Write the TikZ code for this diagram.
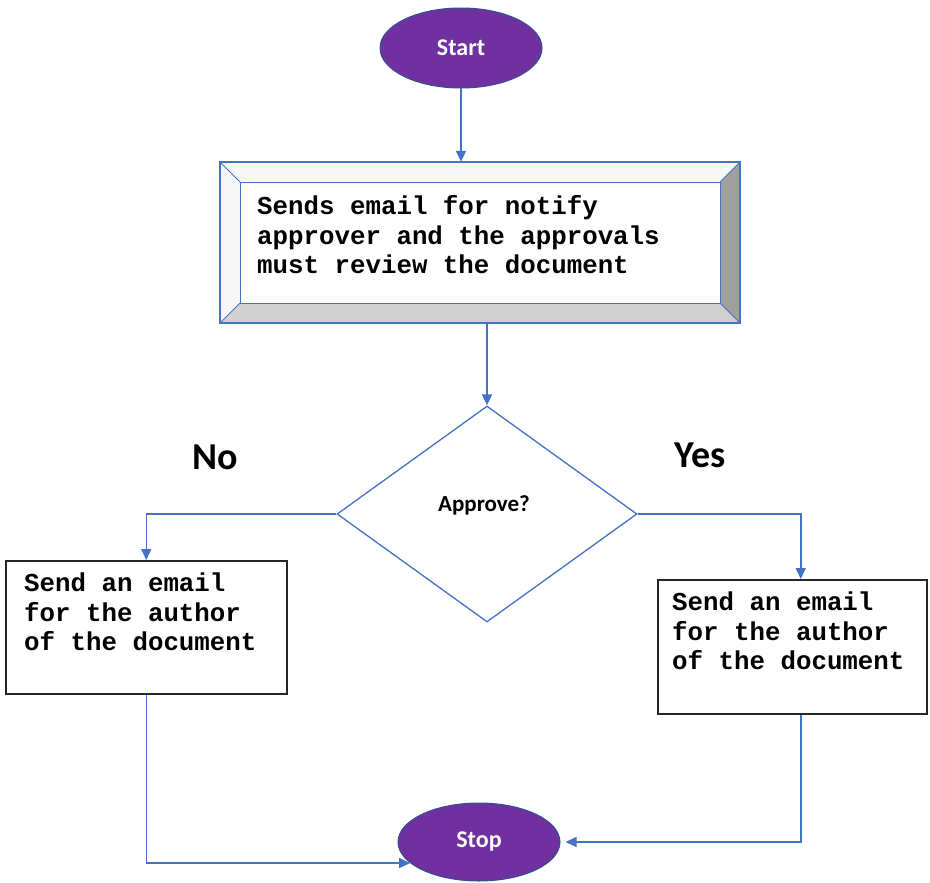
\documentclass[tikz,border=0pt]{standalone}
\usepackage{fontspec}
\newfontfamily\cmono{Liberation Mono}
\newfontfamily\calib{Carlito}
\usetikzlibrary{shapes.geometric,arrows.meta}
\definecolor{flowblue}{HTML}{4472C4}
\definecolor{termpurple}{HTML}{7030A0}
\definecolor{termedge}{HTML}{2F528F}
\definecolor{bevlight}{HTML}{F7F7F7}
\definecolor{bevright}{HTML}{A0A0A0}
\definecolor{bevbottom}{HTML}{D0D0D0}
\begin{document}
\begin{tikzpicture}[x=1pt,y=-1pt,
  arr/.style={draw=flowblue, line width=1.5pt, -{Triangle[length=11pt,width=10pt]}},
  term/.style={ellipse, fill=termpurple, draw=termedge, line width=1pt,
    minimum width=162pt, minimum height=80pt, inner sep=0pt, text=white,
    font=\calib\bfseries\fontsize{24}{28}\selectfont},
  msgbox/.style={draw=black!85, line width=1.5pt, fill=white, inner sep=0pt, anchor=north west},
  monotext/.style={font=\cmono\bfseries\fontsize{25.8}{29.5}\selectfont, align=left, inner sep=0pt},
  bevel/.style={draw=flowblue, line width=1pt},
  lbl/.style={font=\calib\bfseries\fontsize{38}{42}\selectfont, inner sep=0pt}
]
\useasboundingbox (0,0) rectangle (930,883);
\fill[white] (0,0) rectangle (930,883);

% terminals
\node[term] (start) at (461,48) {Start};
\node[term, minimum height=78pt] (stop) at (479,842) {Stop};

% process box with bevel
\node[minimum width=520pt, minimum height=161pt, inner sep=0pt] (proc) at (480,242.5) {};
\fill[bevlight] (220,162) -- (740,162) -- (720,182) -- (240,182) -- cycle;
\fill[bevlight] (220,162) -- (240,182) -- (240,303) -- (220,323) -- cycle;
\fill[bevright] (740,162) -- (740,323) -- (720,303) -- (720,182) -- cycle;
\fill[bevbottom] (220,323) -- (740,323) -- (720,303) -- (240,303) -- cycle;
\draw[bevel] (240,182) rectangle (720,303);
\draw[bevel] (220,162) -- (240,182) (740,162) -- (720,182) (220,323) -- (240,303) (740,323) -- (720,303);
\draw[draw=flowblue, line width=1.5pt] (proc.north west) rectangle (proc.south east);
\node[monotext, anchor=west] (proctext) at (257,235) {Sends email for notify\\approver and the approvals\\must review the document};

% decision
\node[diamond, draw=flowblue, line width=1.3pt, minimum width=300pt, minimum height=216pt, inner sep=0pt, fill=white] (dec) at (487,514) {};
\node[font=\calib\bfseries\fontsize{23}{26}\selectfont] (declabel) at (484,505) {Approve?};
\node[lbl] (nolbl) at (215,457) {No};
\node[lbl] (yeslbl) at (700,455) {Yes};

% message boxes
\node[msgbox, minimum width=281pt, minimum height=133pt] (lbox) at (5,560) {};
\node[monotext, anchor=west] (ltext) at (24,612) {Send an email\\for the author\\of the document};
\node[msgbox, minimum width=269pt, minimum height=134pt] (rbox) at (657,579) {};
\node[monotext, anchor=west] (rtext) at (672,631) {Send an email\\for the author\\of the document};

% connectors
\draw[arr] (start.south) -- (start.south |- proc.north);
\draw[arr] (proc.south -| dec.north) -- (dec.north);
\draw[arr] (dec.west) -| (lbox.north);
\draw[arr] (dec.east) -| ([xshift=8.5pt]rbox.north);
\draw[arr] (lbox.south) |- (stop.197);
\draw[arr, shorten >=5pt] ([xshift=8.5pt]rbox.south) |- (stop.east);
\end{tikzpicture}
\end{document}
